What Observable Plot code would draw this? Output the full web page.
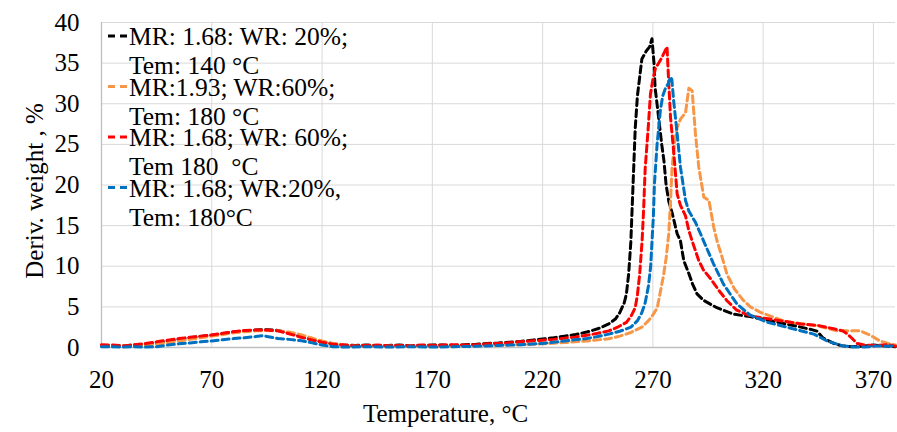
<!DOCTYPE html>
<html>
<head>
<meta charset="utf-8">
<script src="https://cdn.jsdelivr.net/npm/d3@7"></script>
<script src="https://cdn.jsdelivr.net/npm/@observablehq/plot@0.6"></script>
<style>
  html, body { margin: 0; padding: 0; background: #fff; }
  #chart { position: relative; width: 897px; height: 432px; }
</style>
</head>
<body>
<div id="chart"></div>
<script>
// ---------- data ----------
const xTicks = [20, 70, 120, 170, 220, 270, 320, 370];
const yTicks = [0, 5, 10, 15, 20, 25, 30, 35, 40];
const xLabel = "Temperature, °C";
const yLabel = "Deriv. weight , %";

const seriesNames = [
  ["MR: 1.68: WR: 20%;", "Tem: 140 °C"],
  ["MR:1.93; WR:60%;", "Tem: 180 °C"],
  ["MR: 1.68; WR: 60%;", "Tem 180  °C"],
  ["MR: 1.68; WR:20%,", "Tem: 180°C"]
];
const seriesColors = ["#000000", "#F79646", "#FF0000", "#0070C0"];

// Black: MR 1.68, WR 20%, Tem 140
const blackT = [20,25,30,35,40,45,50,55,60,65,70,75,80,85,90,95,100,105,110,115,120,125,130,135,140,145,150,155,160,165,170,175,180,185,190,195,200,205,210,215,220,225,230,235,240,245,250,253,255,257,258,259,260,261,262,263,265,267,268.5,269.6,270.5,271,272.6,274,275,276,277.2,278.7,281,282.5,284,286.3,288,290,293,299,306.6,314,323,330,338,342,344.5,347,349,352,356,360,365,370,375,380];
const blackV = [0.2,0.15,0.2,0.3,0.4,0.6,0.8,1.0,1.2,1.35,1.5,1.7,1.9,2.05,2.15,2.2,2.1,1.8,1.4,1.0,0.7,0.45,0.3,0.25,0.3,0.2,0.25,0.3,0.2,0.25,0.3,0.3,0.25,0.35,0.4,0.5,0.55,0.65,0.75,0.9,1.05,1.2,1.4,1.6,1.9,2.3,2.9,3.5,4.3,5.5,6.6,9,13,20,27,31,35.5,36.5,37,38,35,32,28.3,25,23,20,18,16.6,14,13.1,10.7,9.1,7.8,6.6,5.8,4.9,4.1,3.8,3.3,2.9,2.45,2.2,2.0,1.2,0.9,0.5,0.2,0.1,0.15,0.3,0.2,0.1];

// Orange: MR 1.93, WR 60%, Tem 180
const orangeT = [20,25,30,35,40,45,50,55,60,65,70,75,80,85,90,95,100,105,110,115,120,125,130,135,140,150,160,170,180,190,200,210,220,230,240,250,255,260,265,268,270,272,273.5,274.9,276,277.2,278,278.7,280,281,282.5,284.8,286.3,287.8,289.3,290.8,293.1,295.4,297.6,299.1,301.5,303.6,307,311,314.2,319,329,335,344.4,353.5,364,368.6,373,378,380];
const orangeV = [0.2,0.15,0.2,0.2,0.3,0.4,0.6,0.8,1.0,1.2,1.4,1.6,1.8,1.95,2.05,2.1,2.05,1.9,1.6,1.2,0.8,0.5,0.3,0.2,0.2,0.2,0.15,0.2,0.2,0.25,0.3,0.35,0.45,0.6,0.8,1.07,1.4,1.85,2.5,3.3,4.0,4.9,7,9,11,14,18,22.2,25.5,27.1,28.1,28.9,31.9,31.6,26.3,22.2,18.5,18.1,14.8,13.1,11,9,7.2,5.8,5.0,4.3,3.3,3.0,2.7,2.05,2.05,1.5,0.8,0.4,0.3];

// Red: MR 1.68, WR 60%, Tem 180
const redT = [20,25,30,35,40,45,50,55,60,65,70,75,80,85,90,95,100,105,110,115,120,125,130,135,140,145,150,155,160,165,170,175,180,185,190,195,200,205,210,215,220,225,230,235,240,245,250,254,258,260,262,263,264,265.1,265.8,266.5,268,268.9,270,271.1,274.1,275.5,276.4,277.2,278,279.4,281,282.5,284.8,286.3,287.8,290.8,293,296.1,300,303.6,308,314,323,330,337,345,352,356,358,360,362.6,366,370,376.7,380];
const redV = [0.35,0.3,0.2,0.35,0.5,0.7,0.9,1.1,1.25,1.4,1.55,1.75,1.95,2.1,2.15,2.15,2.05,1.7,1.3,0.95,0.65,0.4,0.3,0.2,0.25,0.3,0.2,0.25,0.2,0.3,0.25,0.3,0.35,0.3,0.35,0.45,0.5,0.6,0.7,0.8,0.9,1.0,1.15,1.3,1.5,1.75,2.05,2.5,3.1,3.8,4.9,6.5,9,13.1,17,22,27.5,31.2,33,34.3,35.7,36.5,37,32.5,28.3,24.2,18.9,17.5,16.2,14.4,13.1,10.7,9.5,8.5,7,5.75,4.6,3.9,3.5,3.2,2.9,2.7,2.3,2.05,1.7,1.2,0.5,0.3,0.25,0.35,0.15];

// Blue: MR 1.68, WR 20%, Tem 180
const blueT = [20,25,30,35,40,45,50,55,60,65,70,75,80,85,90,93,95,100,105,110,115,120,125,130,140,150,160,170,180,190,200,210,220,230,240,245,250,255,260,263,265,266.5,268,269,269.6,270.2,270.7,271.9,273.4,274.5,275.7,277,278,278.6,279.4,281,282.5,284.8,286.3,289.3,291.6,293,297.5,302,308,314,322,330,334,343,349,356,362,368,372,376,380];
const blueV = [0.1,0.1,0.05,0.1,0.05,0.1,0.3,0.45,0.55,0.7,0.8,0.95,1.1,1.2,1.35,1.45,1.35,1.1,1.0,0.85,0.6,0.3,0.1,0.05,0.1,0.05,0.1,0.05,0.1,0.15,0.25,0.35,0.5,0.8,1.1,1.35,1.65,2.0,2.5,3.3,4.3,5.5,7.6,10,13.1,16,20.1,25,29.2,31,31.9,32.5,33.3,33,30.4,26.3,22.2,18.1,16.8,15.4,14,13.1,10.3,7.8,5.4,4.0,3.1,2.55,2.26,1.65,0.8,0.2,0.05,0.1,0.2,0.15,0.2];

const seriesT = [blackT, orangeT, redT, blueT];
const seriesV = [blackV, orangeV, redV, blueV];

// ---------- build ----------
const rows = [];
seriesT.forEach((ts, s) => ts.forEach((t, i) => rows.push({s, t, v: seriesV[s][i]})));

const FONT = "'Liberation Serif', 'Times New Roman', serif";
const gridColor = "#d9d9d9";
const axisColor = "#bfbfbf";

const plot = Plot.plot({
  width: 897,
  height: 432,
  marginLeft: 101,
  marginRight: 2,
  marginTop: 22,
  marginBottom: 85,
  style: {fontFamily: FONT, fontSize: "25px", color: "#000", background: "#fff"},
  x: {domain: [20, 380], ticks: xTicks, tickSize: 0, tickPadding: 23, tickFormat: d => String(d), label: null},
  y: {domain: [0, 40], ticks: yTicks, tickSize: 0, tickPadding: 22, tickFormat: d => String(d), label: null},
  marks: [
    Plot.ruleX(xTicks.slice(1), {stroke: gridColor, strokeWidth: 1}),
    Plot.ruleY(yTicks.slice(1), {stroke: gridColor, strokeWidth: 1}),
    Plot.ruleX([xTicks[0]], {stroke: axisColor, strokeWidth: 1.3}),
    Plot.ruleY([yTicks[0]], {stroke: axisColor, strokeWidth: 1.3}),
    ...seriesT.map((_, s) => Plot.line(rows.filter(r => r.s === s), {
      x: "t", y: "v", stroke: seriesColors[s], strokeWidth: 3,
      strokeDasharray: "7,4", curve: "linear"
    })),
    Plot.text([xLabel], {text: d => d, frameAnchor: "bottom", textAnchor: "middle", lineAnchor: "middle",
      dx: -53, dy: 66.5, fontSize: 25, fill: "#000"}),
    Plot.text([yLabel], {text: d => d, frameAnchor: "left", textAnchor: "middle", lineAnchor: "middle",
      rotate: -90, dx: -67, dy: 6, fontSize: 25, fill: "#000"})
  ]
});

document.getElementById("chart").appendChild(plot);

// ---------- legend (inside plot, top-left) ----------
const svg = d3.select(plot);
const leg = svg.append("g")
  .attr("font-family", FONT).attr("font-size", 25.5).attr("fill", "#000")
  .attr("text-anchor", "start");
seriesNames.forEach((lines, i) => {
  const y1 = 45 + 50.5 * i;
  leg.append("line")
    .attr("x1", 108).attr("x2", 128)
    .attr("y1", y1 - 9).attr("y2", y1 - 9)
    .attr("stroke", seriesColors[i]).attr("stroke-width", 3)
    .attr("stroke-dasharray", "7,5");
  lines.forEach((txt, j) => {
    leg.append("text")
      .attr("x", 129).attr("y", y1 + 29 * j)
      .attr("text-anchor", "start")
      .style("white-space", "pre")
      .text(txt);
  });
});
</script>
</body>
</html>
